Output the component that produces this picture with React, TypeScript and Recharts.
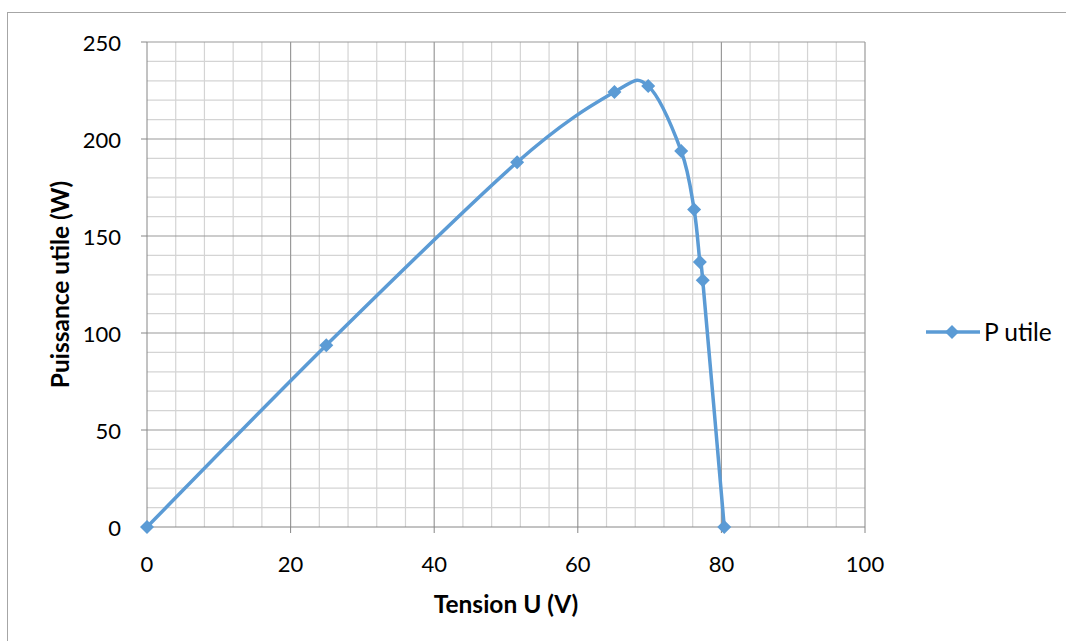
import React from 'react';
import { LineChart, Line, XAxis, YAxis, ReferenceLine } from 'recharts';

const tension = [0, 24.97, 51.55, 65.1, 69.8, 74.4, 76.2, 77.0, 77.4, 80.4];
const puissance = [0, 93.7, 188.0, 224.2, 227.3, 193.8, 163.6, 136.6, 127.2, 0];

const xTicks = [0, 20, 40, 60, 80, 100];
const yTicks = [0, 50, 100, 150, 200, 250];
const xMinor = [4, 8, 12, 16, 24, 28, 32, 36, 44, 48, 52, 56, 64, 68, 72, 76, 84, 88, 92, 96];
const yMinor = [10, 20, 30, 40, 60, 70, 80, 90, 110, 120, 130, 140, 160, 170, 180, 190, 210, 220, 230, 240];

const data = tension.map((u, i) => ({ u, p: puissance[i] }));

const BLUE = '#5B9BD5';
const FONT = 'Lato, "Open Sans", sans-serif';

// Excel-like smoothed line (Catmull-Rom through the points)
const smoothCurve = (context: any) => {
  let pts: number[][] = [];
  return {
    areaStart() {},
    areaEnd() {},
    lineStart() {
      pts = [];
    },
    point(x: number, y: number) {
      pts.push([+x, +y]);
    },
    lineEnd() {
      if (!pts.length) return;
      context.moveTo(pts[0][0], pts[0][1]);
      for (let i = 0; i < pts.length - 1; i++) {
        const p0 = pts[Math.max(i - 1, 0)];
        const p1 = pts[i];
        const p2 = pts[i + 1];
        const p3 = pts[Math.min(i + 2, pts.length - 1)];
        context.bezierCurveTo(
          p1[0] + (p2[0] - p0[0]) / 6,
          p1[1] + (p2[1] - p0[1]) / 6,
          p2[0] - (p3[0] - p1[0]) / 6,
          p2[1] - (p3[1] - p1[1]) / 6,
          p2[0],
          p2[1]
        );
      }
    },
  };
};

const Diamond = ({ cx, cy, r = 7 }: any) => (
  <path d={`M${cx},${cy - r} L${cx + r},${cy} L${cx},${cy + r} L${cx - r},${cy} Z`} fill={BLUE} />
);

const XTick = ({ x, payload }: any) => (
  <text x={x} y={563} textAnchor="middle" dominantBaseline="central" fontSize={22} fontFamily={FONT} fill="#000">
    {payload.value}
  </text>
);

const YTick = ({ y, payload }: any) => (
  <text x={121} y={y} textAnchor="end" dominantBaseline="central" fontSize={22} fontFamily={FONT} fill="#000">
    {payload.value}
  </text>
);

export default function App() {
  return (
    <div
      style={{
        position: 'absolute',
        left: 0,
        top: 0,
        width: 1066,
        height: 641,
        background: '#fff',
        overflow: 'hidden',
      }}
    >
      <div
        style={{
          position: 'absolute',
          left: 7,
          top: 12,
          width: 1100,
          height: 700,
          border: '1px solid #a6a6a6',
        }}
      />
      <div style={{ position: 'absolute', left: 0, top: 0 }}>
        <LineChart width={1066} height={641} data={data} margin={{ top: 42, right: 201, bottom: 0, left: 0 }}>
          {xMinor.map((v) => (
            <ReferenceLine key={'xm' + v} x={v} stroke="#d4d4d4" strokeWidth={1.2} />
          ))}
          {yMinor.map((v) => (
            <ReferenceLine key={'ym' + v} y={v} stroke="#d4d4d4" strokeWidth={1.2} />
          ))}
          {xTicks.slice(1).map((v) => (
            <ReferenceLine key={'xM' + v} x={v} stroke="#9a9a9a" strokeWidth={1.2} />
          ))}
          {yTicks.slice(1).map((v) => (
            <ReferenceLine key={'yM' + v} y={v} stroke="#9a9a9a" strokeWidth={1.2} />
          ))}
          <XAxis
            dataKey="u"
            type="number"
            domain={[0, 100]}
            ticks={xTicks}
            height={114}
            stroke="#868686"
            tickSize={6}
            tick={<XTick />}
            label={{
              content: ({ viewBox }: any) => (
                <text
                  x={viewBox.x + viewBox.width / 2}
                  y={603}
                  textAnchor="middle"
                  dominantBaseline="central"
                  fontSize={24.5}
                  fontWeight="bold"
                  fontFamily={FONT}
                  fill="#000"
                >
                  Tension U (V)
                </text>
              ),
            }}
          />
          <YAxis
            type="number"
            domain={[0, 250]}
            ticks={yTicks}
            width={147}
            stroke="#868686"
            tickSize={6}
            tick={<YTick />}
            label={{
              content: ({ viewBox }: any) => {
                const cy = viewBox.y + viewBox.height / 2;
                return (
                  <text
                    x={59}
                    y={cy}
                    transform={`rotate(-90, 59, ${cy})`}
                    textAnchor="middle"
                    dominantBaseline="central"
                    fontSize={24.5}
                    fontWeight="bold"
                    fontFamily={FONT}
                    fill="#000"
                  >
                    Puissance utile (W)
                  </text>
                );
              },
            }}
          />
          <Line
            dataKey="p"
            type={smoothCurve as any}
            stroke={BLUE}
            strokeWidth={3.5}
            dot={(props: any) => <Diamond key={props.index} cx={props.cx} cy={props.cy} />}
            activeDot={false}
            isAnimationActive={false}
          />
        </LineChart>
      </div>
      <div style={{ position: 'absolute', left: 924, top: 316, display: 'flex', alignItems: 'center' }}>
        <svg width={58} height={32}>
          <line x1={2} y1={16} x2={56} y2={16} stroke={BLUE} strokeWidth={3.5} />
          <Diamond cx={28} cy={16} r={7} />
        </svg>
        <span style={{ fontFamily: FONT, fontSize: 24.5, color: '#000', marginLeft: 2, lineHeight: '32px' }}>P utile</span>
      </div>
    </div>
  );
}
